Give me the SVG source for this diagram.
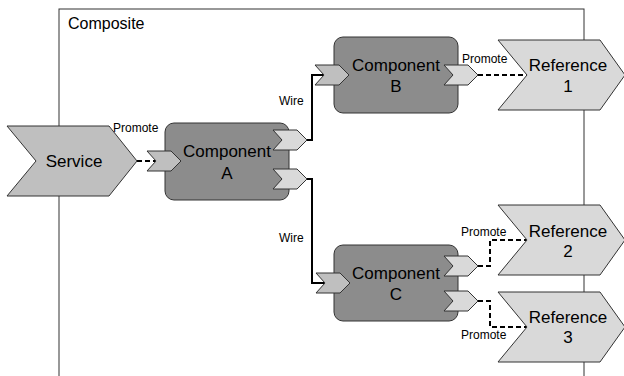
<svg xmlns="http://www.w3.org/2000/svg" width="624" height="376" viewBox="0 0 624 376">
<style>
text{font-family:"Liberation Sans",Arial,sans-serif;fill:#000}
.big{font-size:17px;text-anchor:middle}
.small{font-size:12px}
.comp{fill:#8c8c8c;stroke:#333;stroke-width:1}
.svc{fill:#bfbfbf;stroke:#333;stroke-width:1}
.ref{fill:#d9d9d9;stroke:#333;stroke-width:1}
.wire{fill:none;stroke:#000;stroke-width:2}
.prom{fill:none;stroke:#000;stroke-width:2;stroke-dasharray:5,3}
</style>
<defs>
<polygon id="intf" points="0,0 24,0 34,10 24,20 0,20 9,10"/>
<polygon id="big" points="0,0 102,0 127,35 102,70 0,70 29,35"/>
</defs>
<rect width="624" height="376" fill="#fff"/>
<g id="composite">
<rect x="59" y="9" width="525" height="420" fill="none" stroke="#333" stroke-width="1"/>
<text x="68" y="29" style="font-size:16px">Composite</text>
</g>
<g id="connectors">
<polyline class="prom" points="137,161 156,161"/>
<polyline class="prom" points="478,75 528,75"/>
<polyline class="prom" points="478,266 490,266 490,240 528,240"/>
<polyline class="prom" points="478,301 490,301 490,327 528,327"/>
<polyline class="wire" points="306,140 312,140 312,75 324,75"/>
<polyline class="wire" points="306,179 312,179 312,283 325,283"/>
<text class="small" x="113" y="132">Promote</text>
<text class="small" x="462" y="63">Promote</text>
<text class="small" x="461" y="236">Promote</text>
<text class="small" x="461" y="339">Promote</text>
<text class="small" x="279" y="105">Wire</text>
<text class="small" x="279" y="242">Wire</text>
</g>
<g id="service">
<polygon class="svc" points="7,126 109,126 137,161 109,196 7,196 36,161"/>
<text class="big" x="74" y="167">Service</text>
</g>
<g id="componentA">
<rect class="comp" x="165" y="123" width="124" height="77" rx="9"/>
<use href="#intf" x="147" y="151" class="svc"/>
<use href="#intf" x="273" y="130" class="ref"/>
<use href="#intf" x="273" y="169" class="ref"/>
<text class="big" x="227" y="157">Component</text>
<text class="big" x="227" y="179">A</text>
</g>
<g id="componentB">
<rect class="comp" x="334" y="37" width="124" height="76" rx="9"/>
<use href="#intf" x="315" y="65" class="svc"/>
<use href="#intf" x="444" y="65" class="ref"/>
<text class="big" x="396" y="71">Component</text>
<text class="big" x="396" y="92">B</text>
</g>
<g id="componentC">
<rect class="comp" x="334" y="245" width="124" height="76" rx="9"/>
<use href="#intf" x="316" y="273" class="svc"/>
<use href="#intf" x="444" y="256" class="ref"/>
<use href="#intf" x="444" y="291" class="ref"/>
<text class="big" x="396" y="279">Component</text>
<text class="big" x="396" y="300">C</text>
</g>
<g id="reference1">
<use href="#big" x="498" y="40" class="ref"/>
<text class="big" x="568" y="71">Reference</text>
<text class="big" x="568" y="92">1</text>
</g>
<g id="reference2">
<use href="#big" x="498" y="205" class="ref"/>
<text class="big" x="568" y="237">Reference</text>
<text class="big" x="568" y="257">2</text>
</g>
<g id="reference3">
<use href="#big" x="498" y="292" class="ref"/>
<text class="big" x="568" y="323">Reference</text>
<text class="big" x="568" y="343">3</text>
</g>
</svg>
